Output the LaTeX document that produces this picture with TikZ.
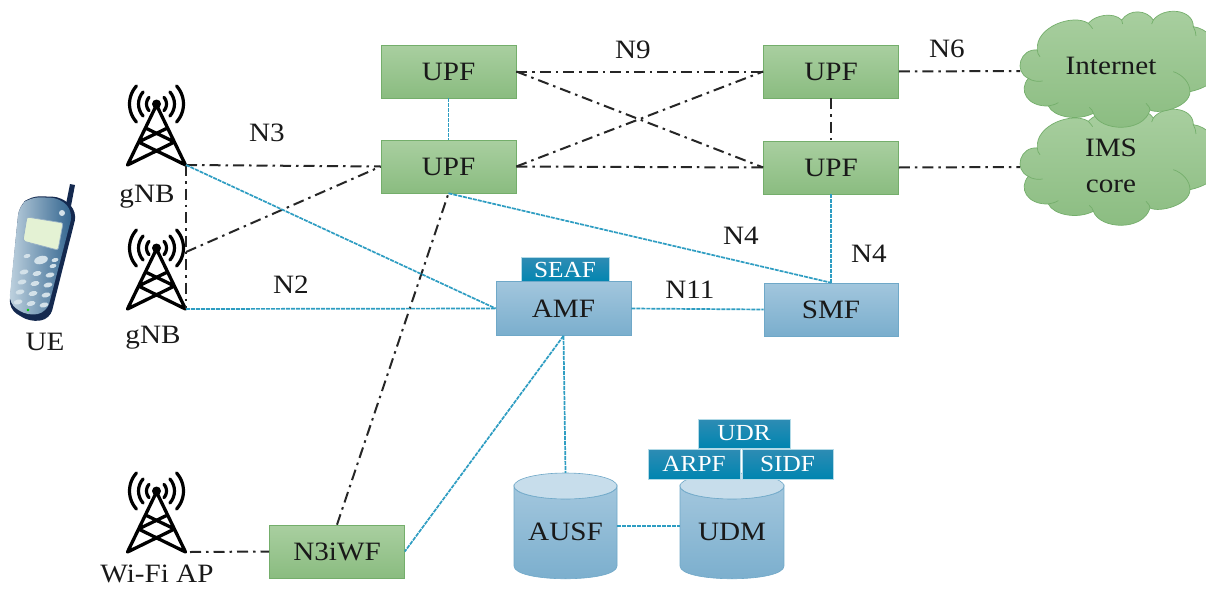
\documentclass[tikz,border=0pt]{standalone}
\usepackage{fontspec}
\setmainfont[FakeStretch=1.1]{Liberation Serif}
\usetikzlibrary{calc}
\definecolor{lnk}{HTML}{2E9DC2}
\definecolor{grnT}{HTML}{A9CFA0}
\definecolor{grnB}{HTML}{8ABC80}
\definecolor{grnE}{HTML}{74AE6B}
\definecolor{bluT}{HTML}{A2C6DD}
\definecolor{bluB}{HTML}{7AAECD}
\definecolor{bluE}{HTML}{6FA8C8}
\definecolor{tabT}{HTML}{2E8CB4}
\definecolor{tabB}{HTML}{0085B0}
\definecolor{phL}{HTML}{BFD2DF}
\definecolor{phR}{HTML}{2F628D}
\definecolor{phE}{HTML}{14294F}
\definecolor{phK}{HTML}{D3E1E9}
\definecolor{phS}{HTML}{E4F2D4}
\tikzset{
  txt/.style={font=\fontsize{26.5}{30}\selectfont,text=black!90,inner sep=0pt,align=center},
  upfbox/.style={txt,rectangle,minimum width=135pt,minimum height=53pt,top color=grnT,bottom color=grnB,draw=grnE,line width=.6pt},
  nfbox/.style={txt,rectangle,minimum width=135pt,minimum height=54pt,top color=bluT,bottom color=bluB,draw=bluE,line width=.6pt},
  tabbox/.style={rectangle,inner sep=0pt,font=\fontsize{23}{26}\selectfont,text=white,top color=tabT,bottom color=tabB,draw=white!70!tabB,line width=.5pt},
  ctl/.style={line width=2pt,black!85,dash pattern=on 11pt off 5pt on 2.5pt off 5pt},
  sig/.style={line width=1.7pt,lnk,dash pattern=on 4pt off 1pt},
  pics/radiotower/.style={code={
    \draw[line width=3.3pt,black,line join=round,line cap=round]
      (-29,0) -- (0,-60) -- (29,0)
      (-11,-37) -- (18,-23) -- (-29,0)
      (11,-37) -- (-18,-23) -- (29,0);
    \fill[black] (0,-61) circle[radius=4.5pt];
    \foreach \r in {10,18,27}{
      \draw[line width=3.2pt,black,line cap=round] plot[smooth,domain=-42:42,samples=9] ({\r*cos(\x)},{-61+\r*sin(\x)});
      \draw[line width=3.2pt,black,line cap=round] plot[smooth,domain=-42:42,samples=9] ({-\r*cos(\x)},{-61+\r*sin(\x)});
    }
  }}
}
\newcommand{\cloudshape}[1]{%
  \begin{scope}[xshift=980pt,yshift=#1,x=.3333pt,y=-.3333pt]
    \path[top color=grnT,bottom color=grnB,draw=grnE,line width=.7pt]
      (145,235) .. controls (100,215) and (120,145) .. (172,150)
      .. controls (165,80) and (280,40) .. (325,70)
      .. controls (345,45) and (400,35) .. (425,60)
      .. controls (450,25) and (500,30) .. (520,60)
      .. controls (550,20) and (640,25) .. (640,80)
      .. controls (720,90) and (790,240) .. (630,275)
      .. controls (630,320) and (540,345) .. (510,330)
      .. controls (490,400) and (360,395) .. (340,340)
      .. controls (290,365) and (220,350) .. (205,318)
      .. controls (140,320) and (115,270) .. (145,235) -- cycle;
    \draw[grnE,line width=.7pt]
      (145,235) .. controls (155,243) and (175,246) .. (188,243)
      (172,150) .. controls (172,158) and (175,165) .. (180,170)
      (325,70) .. controls (330,76) and (334,80) .. (338,86)
      (425,60) .. controls (425,65) and (426,68) .. (428,72)
      (520,60) .. controls (518,64) and (517,68) .. (515,72)
      (640,80) .. controls (645,90) and (648,98) .. (648,108)
      (580,215) .. controls (610,225) and (630,250) .. (630,275)
      (510,330) .. controls (510,325) and (505,315) .. (498,310)
      (340,340) .. controls (338,332) and (335,328) .. (328,322)
      (205,318) .. controls (215,316) and (225,314) .. (235,308);
  \end{scope}}
\newcommand{\cyl}[2]{% left x, right x
  \path[top color=bluT,bottom color=bluB,draw=bluE,line width=.6pt]
    (#1,486) -- (#1,566) .. controls (#1,583) and (#2,583) .. (#2,566)
    -- (#2,486) .. controls (#2,503) and (#1,503) .. (#1,486) -- cycle;
  \path[fill=bluT!60!white,draw=bluE,line width=.6pt]
    ({(#1+#2)/2},486) ellipse[x radius={(#2-#1)/2},y radius=13];}
\begin{document}
\begin{tikzpicture}[x=1pt,y=-1pt]
\clip (0,0) rectangle (1206,589);
\fill[white] (0,0) rectangle (1206,589);

% clouds
\cloudshape{-98pt}
\cloudshape{0pt}
\node[txt] (inettxt) at (1111,66) {Internet};
\node[txt] (imstxt) at (1111,166) {IMS\\[6pt]core};
\coordinate (inet) at (1020,71);
\coordinate (ims) at (1020,167);

% boxes
\node[upfbox] (upfa) at (448.5,71.5) {UPF};
\node[upfbox] (upfb) at (448.5,166.5) {UPF};
\node[upfbox] (upfc) at (831,71.5) {UPF};
\node[upfbox] (upfd) at (831,167.5) {UPF};
\node[upfbox] (iwf) at (337,551.5) {N3iWF};
\node[tabbox,minimum width=88pt,minimum height=25pt] (seaf) at (565,270) {SEAF};
\node[nfbox] (amf) at (563.5,308.5) {AMF};
\node[nfbox,minimum width=134pt,minimum height=53pt] (smf) at (831,309.5) {SMF};

% towers
\pic at (156.5,165) {radiotower};
\pic at (156.5,309) {radiotower};
\pic at (156.5,552) {radiotower};
\coordinate (gnba) at (186,165);
\coordinate (gnbb) at (186,309);
\coordinate (gnbbm) at (186,252);
\coordinate (wifi) at (190,552);

% cylinders
\cyl{514}{617}
\cyl{680}{784}
\node[minimum width=103pt,minimum height=106pt,inner sep=0pt] (ausf) at (565.5,526) {};
\node[minimum width=104pt,minimum height=106pt,inner sep=0pt] (udm) at (732,526) {};
\node[txt] (ausftxt) at (565.5,532) {AUSF};
\node[txt] (udmtxt) at (732,532) {UDM};
\node[tabbox,minimum width=92pt,minimum height=29pt] (udr) at (744,433.5) {UDR};
\node[tabbox,minimum width=92pt,minimum height=30pt] (arpf) at (694,464) {ARPF};
\node[tabbox,minimum width=91pt,minimum height=30pt] (sidf) at (787.5,464) {SIDF};

% phone
\fill[phE] (75,185) -- (71,206) -- (66,204) -- (70,184) -- cycle;
\fill[phE,rounded corners=9pt] (19,206) -- (31,196) -- (62,197) -- (77,212) -- (50,319) -- (30,322) -- (9,309) -- cycle;
\path[left color=phL,right color=phR,rounded corners=9pt] (19,206) -- (31,197) -- (60,198) -- (73,212) -- (47,312) -- (28,316) -- (9,304) -- cycle;
\fill[phS,draw=phR!50!white,line width=.7pt,rounded corners=2pt] (27,217) -- (63,223) -- (58,250) -- (23,241) -- cycle;
\fill[phK] (62,213) circle[radius=3pt];
\begin{scope}[phK]
  \fill[rotate around={15:(41,260)}] (41,260) ellipse[x radius=7,y radius=4];
  \foreach \kx/\ky in {27/256,55/260,53/266}{\fill[rotate around={15:(\kx,\ky)}] (\kx,\ky) ellipse[x radius=3.5,y radius=2];}
  \foreach \row/\dx in {0/0,1/-2,2/-4,3/-6}{
    \foreach \col in {0,1,2}{
      \fill[rotate around={12:(24+\col*13+\dx,272+\row*10+\col*1.5)}] (24+\col*13+\dx,272+\row*10+\col*1.5) ellipse[x radius=4.5,y radius=2.4];
    }}
\end{scope}
\fill[green!80!black] (28,310) circle[radius=1.4pt];

% control plane
\draw[ctl] (gnba) -- (upfb.west);
\draw[ctl] (gnba) -- (gnbb);
\draw[ctl] (gnbbm) -- (upfb.west);
\draw[ctl] (upfa.east) -- (upfc.west);
\draw[ctl] (upfa.east) -- (upfd.west);
\draw[ctl] (upfb.east) -- (upfc.west);
\draw[ctl] (upfb.east) -- (upfd.west);
\draw[ctl] (upfc.south) -- (upfd.north);
\draw[ctl] (upfc.east) -- (inet);
\draw[ctl] (upfd.east) -- (ims);
\draw[ctl] (iwf.north) -- (upfb.south);
\draw[ctl] (wifi) -- (iwf.west);

% signalling
\draw[sig] (upfa.south) -- (upfb.north);
\draw[sig] (gnba) -- (amf.west);
\draw[sig] (gnbb) -- (amf.west);
\draw[sig] (upfb.south) -- (smf.north);
\draw[sig] (upfd.south) -- (smf.north);
\draw[sig] (amf.east) -- (smf.west);
\draw[sig] (amf.south) -- (ausf.north);
\draw[sig] (amf.south) -- (iwf.east);
\draw[sig] (ausf.east) -- (udm.west);

% labels
\node[txt] (ln9) at (633,50) {N9};
\node[txt] (ln6) at (947,49) {N6};
\node[txt] (ln3) at (267,133) {N3};
\node[txt] (ln4a) at (741,236) {N4};
\node[txt] (ln4b) at (869,254) {N4};
\node[txt] (ln2) at (291,285) {N2};
\node[txt] (ln11) at (690,290) {N11};
\node[txt] (lue) at (45,342) {UE};
\node[txt] (lga) at (147,197) {gNB};
\node[txt] (lgb) at (153,338) {gNB};
\node[txt,anchor=base] (lwf) at (157,582) {Wi-Fi AP};
\end{tikzpicture}
\end{document}
